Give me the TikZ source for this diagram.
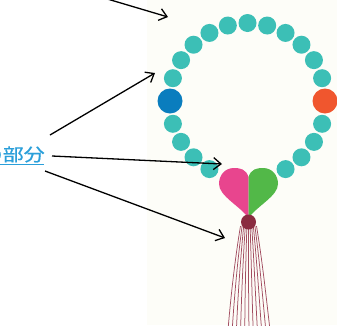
\documentclass[tikz,border=0pt]{standalone}
\usepackage{fontspec}
\newfontfamily\jpfont[FakeBold=0.6]{Noto Sans CJK JP}
\usetikzlibrary{arrows.meta}
\definecolor{paper}{HTML}{FDFDF8}
\definecolor{beadteal}{HTML}{3CBFB6}
\definecolor{beadblue}{HTML}{0A7DBE}
\definecolor{beadorange}{HTML}{F0562E}
\definecolor{heartpink}{HTML}{E8458E}
\definecolor{heartgreen}{HTML}{52B848}
\definecolor{knot}{HTML}{8A2B40}
\definecolor{strand}{HTML}{A24D60}
\definecolor{labelblue}{HTML}{2A9FDA}
\tikzset{
  pointer/.style={draw=black, line width=1.3pt, -{Straight Barb[length=7.5pt,width=12pt,line width=1.3pt]}},
  smallbead/.style={circle, fill=beadteal, minimum size=18pt, inner sep=0pt},
  bigbead/.style={circle, minimum size=25pt, inner sep=0pt},
  tassel/.style={draw=strand, line width=0.75pt},
}
\begin{document}
\begin{tikzpicture}[x=1pt,y=-1pt]
  \useasboundingbox (0,0) rectangle (337,325);
  \clip (0,0) rectangle (337,325);
  \fill[white] (0,0) rectangle (337,325);
  \fill[paper] (147,0) rectangle (337,325);

  % tassel strands hanging from the knot bead
  \foreach \i in {-5,...,5} {
    \draw[tassel] ({248.5+1.6*\i},226) .. controls ({248.5+2.8*\i},262) and ({248.5+3.6*\i},300) .. ({249+4.2*\i},330);
  }

  % ring of beads
  \foreach \a [count=\k] in {90,75.4,60.8,46.2,31.6,17,104.6,119.2,133.8,148.4,163,-17,-31.6,-46.2,-60.8,-163,-148.4,-133.8,-119.2} {
    \node[smallbead] (b\k) at ({247.5+78*cos(\a)},{101-78*sin(\a)}) {};
  }
  \node[bigbead, fill=beadblue] (blue) at (170,101) {};
  \node[bigbead, fill=beadorange] (orange) at (325,101) {};

  % heart made of two halves
  \fill[heartpink] (248.5,177) .. controls (246,169) and (240,168) .. (234,168)
    .. controls (225,168) and (219,175) .. (219,184)
    .. controls (219,196) and (240,206) .. (248.5,218) -- cycle;
  \fill[heartgreen] (248.5,177) .. controls (251,169) and (257,168) .. (263,168)
    .. controls (272,168) and (278,175) .. (278,184)
    .. controls (278,196) and (257,206) .. (248.5,218) -- cycle;
  \node[circle, fill=knot, minimum size=15pt, inner sep=0pt] (knotbead) at (248.5,222) {};

  % label
  \node[anchor=base west, inner sep=0pt, text=labelblue] (label) at (-18.5,161)
    {\scalebox{1.2}[1]{\fontsize{17.5pt}{18pt}\selectfont\jpfont の部分}};
  \draw[labelblue, line width=0.9pt] (0,164.5) -- (44,164.5);

  % arrow anchors
  \coordinate (s0) at (104,-2);
  \coordinate (e0) at (168,17);
  \coordinate (s1) at (50,135);
  \coordinate (e1) at (155,73);
  \coordinate (s2) at (52,156);
  \coordinate (e2) at (222,164);
  \coordinate (s3) at (45,171);
  \coordinate (e3) at (225,238);
  \draw[pointer] (s0) -- (e0);
  \draw[pointer] (s1) -- (e1);
  \draw[pointer] (s2) -- (e2);
  \draw[pointer] (s3) -- (e3);
\end{tikzpicture}
\end{document}
